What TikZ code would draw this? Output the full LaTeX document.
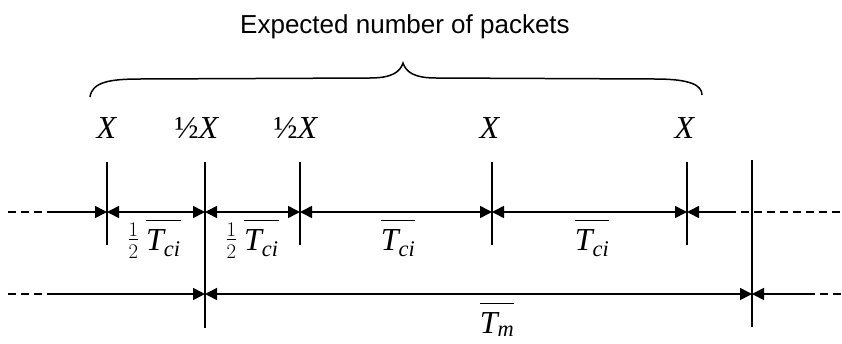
\documentclass[tikz,border=0pt]{standalone}
\usepackage{amsmath}
\usepackage{fontspec}
\setmainfont{Liberation Serif}
\newfontfamily\titlefont{Liberation Sans}
\usetikzlibrary{arrows.meta}
\newcommand{\barT}[1]{\overline{\rule{0pt}{0.82em}\textit{T}_{\textit{#1}}}}
\newcommand{\halffrac}{\raisebox{4pt}{$\frac{1\rule[-2pt]{0pt}{2pt}}{\rule{0pt}{17pt}2}$}}
\begin{document}
\begin{tikzpicture}[x=1pt,y=-1pt,
  line width=1.6pt,
  tipend/.style={-{Triangle[length=12pt,width=12pt]}},
  tipstart/.style={{Triangle[length=12pt,width=12pt]}-},
  dbl/.style={{Triangle[length=12pt,width=12pt]}-{Triangle[length=12pt,width=12pt]}},
  dsh/.style={dash pattern=on 8pt off 5pt},
  lbl/.style={font=\fontsize{32}{38}\selectfont, anchor=base, inner sep=0pt},
  ttl/.style={font=\titlefont\fontsize{26}{30}\selectfont, anchor=base, inner sep=0pt}]
\useasboundingbox (0,0) rectangle (842,343);
% title
\node[ttl] (title) at (405,33) {Expected number of packets};
% brace
\draw[line width=1.5pt] (90,97) .. controls (92,82) and (110,79) .. (140,79) -- (370,78)
  .. controls (392,78) and (400,72) .. (403,63)
  .. controls (406,72) and (414,78) .. (436,78) -- (655,79)
  .. controls (690,79) and (702,85) .. (702,95);
% packet labels
\node[lbl] (x1) at (107,138) {\textit{X}};
\node[lbl] (x2) at (197,138) {½\textit{X}};
\node[lbl] (x3) at (296,138) {½\textit{X}};
\node[lbl] (x4) at (490,138) {\textit{X}};
\node[lbl] (x5) at (685,138) {\textit{X}};
% ticks
\coordinate (a1) at (107,162); \coordinate (b1) at (107,245);
\coordinate (a2) at (205,162); \coordinate (b2) at (205,328);
\coordinate (a3) at (300,162); \coordinate (b3) at (300,245);
\coordinate (a4) at (492,162); \coordinate (b4) at (492,245);
\coordinate (a5) at (687,162); \coordinate (b5) at (687,245);
\coordinate (a6) at (752,160); \coordinate (b6) at (752,327);
\foreach \i in {1,...,6} \draw (a\i) -- (b\i);
% upper line
\coordinate (u0) at (8,212); \coordinate (um) at (55,212);
\coordinate (u1) at (107,212); \coordinate (u2) at (205,212);
\coordinate (u3) at (300,212); \coordinate (u4) at (492,212);
\coordinate (u5) at (687,212); \coordinate (ur) at (728,212);
\coordinate (ue) at (842,212);
\draw[dsh] (u0) -- (um);
\draw[tipend] (um) -- (u1);
\draw[dbl] (u1) -- (u2);
\draw[dbl] (u2) -- (u3);
\draw[dbl] (u3) -- (u4);
\draw[dbl] (u4) -- (u5);
\draw[tipstart] (u5) -- (ur);
\draw[dsh] (ur) -- (ue);
% lower line
\coordinate (l0) at (8,294); \coordinate (lm) at (52,294);
\coordinate (l2) at (205,294); \coordinate (l6) at (752,294);
\coordinate (lr) at (807,294); \coordinate (le) at (842,294);
\draw[dsh] (l0) -- (lm);
\draw[tipend] (lm) -- (l2);
\draw[dbl] (l2) -- (l6);
\draw[tipstart] (l6) -- (lr);
\draw[dsh] (lr) -- (le);
% interval labels
\node[lbl] (s1) at (154,250) {\halffrac$\;\barT{ci}$};
\node[lbl] (s2) at (252,250) {\halffrac$\;\barT{ci}$};
\node[lbl] (s3) at (398,250) {$\barT{ci}$};
\node[lbl] (s4) at (592,250) {$\barT{ci}$};
\node[lbl] (s5) at (497,333) {$\barT{m}$};
\end{tikzpicture}
\end{document}
